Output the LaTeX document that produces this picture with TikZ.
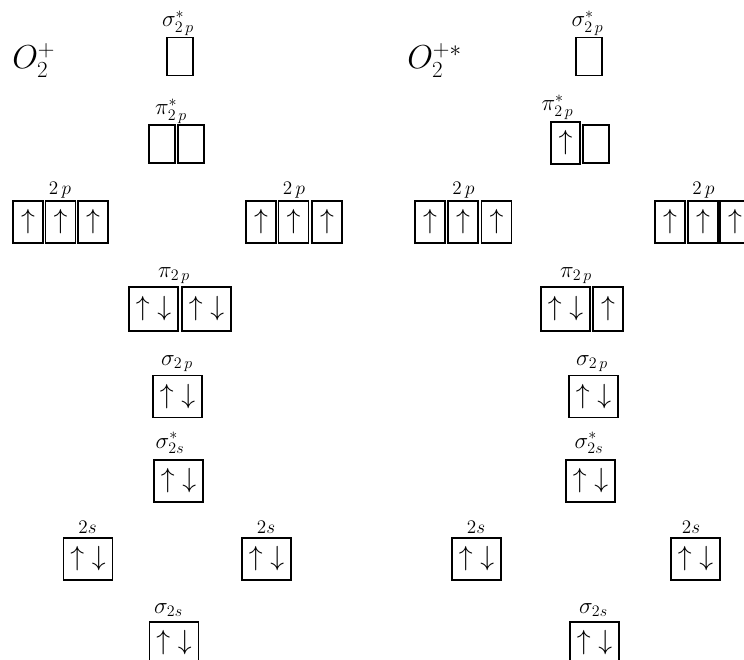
\documentclass[tikz,border=0pt]{standalone}
\usepackage{fontspec}
\setmainfont{Liberation Serif}
\newcommand{\updn}{$\uparrow\mkern5mu\downarrow$}
\newcommand{\upone}{$\uparrow$}
\begin{document}
\begin{tikzpicture}[x=0.75pt,y=-0.75pt]
            \useasboundingbox (0,0) rectangle (744,660);
            \clip (0,0) rectangle (744,660);
            {
                \tikzset{
                    orb/.style = {draw, line width=1.1pt, inner sep=0pt, minimum width=22.5pt, minimum height=31.5pt, font=\fontsize{20}{20}\selectfont},
                    wideorb/.style = {orb, minimum width=36.75pt},
                    emptyorb/.style = {orb, minimum width=19.5pt, minimum height=28.5pt},
                    lbl/.style = {anchor=base, inner sep=0pt, font=\fontsize{17}{20}\selectfont},
                    sublbl/.style = {anchor=base, inner sep=0pt, font=\fontsize{14}{16}\selectfont},
                    mol/.style = {anchor=base west, inner sep=0pt, font=\fontsize{24}{28}\selectfont}
                }

                % O2+ ground state
                \node[mol] (ionA) at (12,69) {$O_2^+$};

                \node[emptyorb] (sgpA) at (180,56.5) {};
                \node[lbl] (sgpAl) at (178,27) {$\sigma^*_{2\,p}$};
                \node[emptyorb] (pipA1) at (162,144) {};
                \node[emptyorb] (pipA2) at (191,144) {};
                \node[lbl] (pipAl) at (171,115) {$\pi^*_{2\,p}$};

                \node[orb] (pLA1) at (28,222) {\upone};
                \node[orb] (pLA2) at (60.5,222) {\upone};
                \node[orb] (pLA3) at (93,222) {\upone};
                \node[sublbl] (pLAl) at (60,195) {$2\,p$};
                \node[orb] (pRA1) at (261,222) {\upone};
                \node[orb] (pRA2) at (293.5,222) {\upone};
                \node[orb] (pRA3) at (327,222) {\upone};
                \node[sublbl] (pRAl) at (294,195) {$2\,p$};

                \node[wideorb, minimum height=33pt] (bpA1) at (153.5,309) {\updn};
                \node[wideorb, minimum height=33pt] (bpA2) at (206.5,309) {\updn};
                \node[lbl] (bpAl) at (174,277) {$\pi_{2\,p}$};

                \node[wideorb] (bsA) at (177.5,396.5) {\updn};
                \node[lbl] (bsAl) at (177,365) {$\sigma_{2\,p}$};
                \node[wideorb] (asA) at (178.5,481) {\updn};
                \node[lbl] (asAl) at (170,448) {$\sigma^*_{2s}$};

                \node[wideorb] (sLA) at (88,559) {\updn};
                \node[sublbl] (sLAl) at (87.5,533) {$2s$};
                \node[wideorb] (sRA) at (266.5,559) {\updn};
                \node[sublbl] (sRAl) at (266,533) {$2s$};

                \node[wideorb] (ssA) at (174,643) {\updn};
                \node[lbl] (ssAl) at (168.5,613) {$\sigma_{2s}$};

                % excited O2+
                \node[mol] (ionB) at (407,69) {$O_2^{+*}$};

                \node[emptyorb] (sgpB) at (589,56.5) {};
                \node[lbl] (sgpBl) at (587.5,27) {$\sigma^*_{2\,p}$};
                \node[orb, minimum width=21.75pt] (pipB1) at (565.5,143) {\upone};
                \node[emptyorb] (pipB2) at (596,144) {};
                \node[lbl] (pipBl) at (557.5,111) {$\pi^*_{2\,p}$};

                \node[orb] (pLB1) at (430,222) {\upone};
                \node[orb] (pLB2) at (463,222) {\upone};
                \node[orb] (pLB3) at (496.5,222) {\upone};
                \node[sublbl] (pLBl) at (463.5,195) {$2\,p$};
                \node[orb] (pRB1) at (670,222) {\upone};
                \node[orb] (pRB2) at (703,222) {\upone};
                \node[orb] (pRB3) at (735,222) {\upone};
                \node[sublbl] (pRBl) at (703.5,195) {$2\,p$};

                \node[wideorb, minimum height=33pt] (bpB1) at (565.5,309) {\updn};
                \node[orb, minimum height=33pt] (bpB2) at (608,309) {\upone};
                \node[lbl] (bpBl) at (576,277) {$\pi_{2\,p}$};

                \node[wideorb] (bsB) at (593.5,396.5) {\updn};
                \node[lbl] (bsBl) at (592,365) {$\sigma_{2\,p}$};
                \node[wideorb] (asB) at (590.5,481) {\updn};
                \node[lbl] (asBl) at (589,448) {$\sigma^*_{2s}$};

                \node[wideorb] (sLB) at (476.5,559) {\updn};
                \node[sublbl] (sLBl) at (476,533) {$2s$};
                \node[wideorb] (sRB) at (695.5,559) {\updn};
                \node[sublbl] (sRBl) at (691,533) {$2s$};

                \node[wideorb] (ssB) at (594.5,643) {\updn};
                \node[lbl] (ssBl) at (593.5,613) {$\sigma_{2s}$};
            }
        \end{tikzpicture}
\end{document}
